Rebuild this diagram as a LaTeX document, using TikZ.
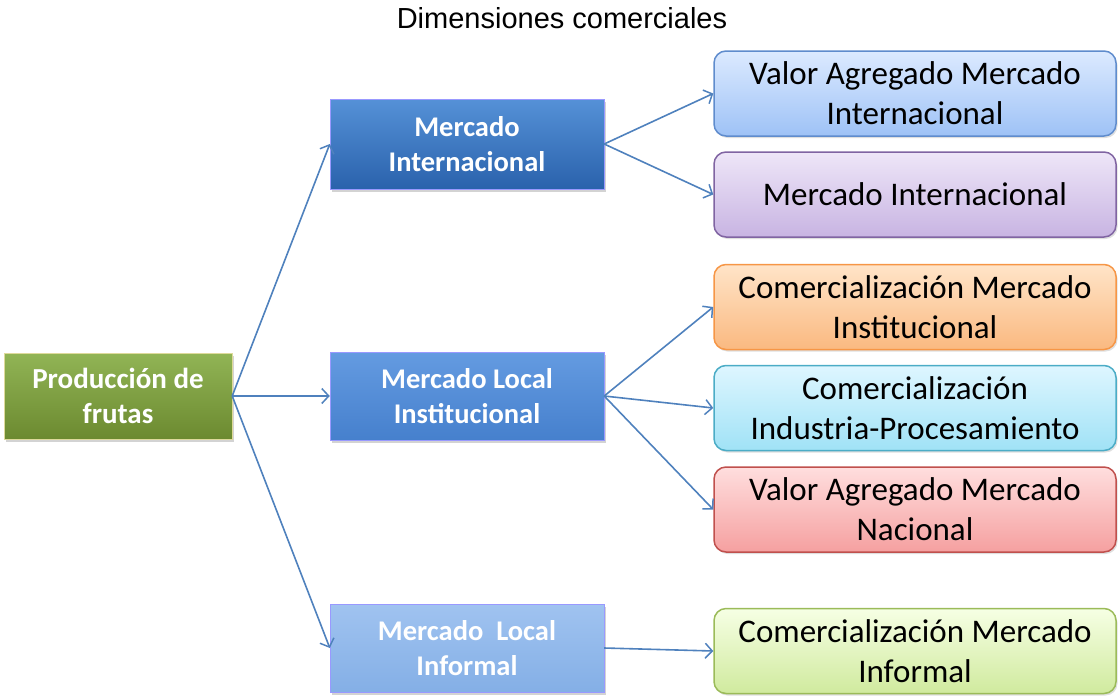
\documentclass[tikz,border=0pt]{standalone}
\usepackage{fontspec}
\setmainfont{Carlito}
\newfontfamily\titlefont{Liberation Sans}
\usepackage{tikz}
\usetikzlibrary{arrows.meta, shadows}
\definecolor{arrowblue}{RGB}{79,129,189}
\tikzstyle{source} = [rectangle, minimum width=228pt, minimum height=86pt, inner sep=0pt, text centered, align=center, draw=white!70!olive, top color={rgb,255:red,145;green,180;blue,85}, bottom color={rgb,255:red,108;green,138;blue,48}, text=white, font=\bfseries\fontsize{29}{35}\selectfont, drop shadow={shadow xshift=2pt, shadow yshift=-3pt, opacity=0.35}]
\tikzstyle{market} = [rectangle, minimum width=274pt, minimum height=88pt, inner sep=0pt, text centered, align=center, draw=white!60!blue, text=white, font=\bfseries\fontsize{28.5}{35}\selectfont, drop shadow={shadow xshift=2pt, shadow yshift=-3pt, opacity=0.35}]
\tikzstyle{channel} = [rectangle, rounded corners=12pt, minimum width=402pt, minimum height=85pt, inner sep=0pt, text centered, align=center, line width=1.5pt, font=\fontsize{33}{40}\selectfont, drop shadow={shadow xshift=1.5pt, shadow yshift=-2pt, opacity=0.25}]
\tikzstyle{arrow} = [line width=1.6pt, draw=arrowblue, -{Straight Barb[length=7pt, width=15pt, line width=1.5pt]}]

\begin{document}
\begin{tikzpicture}[x=1pt, y=-1pt]
\useasboundingbox (0,0) rectangle (1118,696);

\node (title) at (562,18) {\titlefont\fontsize{29}{32}\selectfont Dimensiones comerciales};

\node (produccion) [source] at (118,396) {Producción de\\frutas};

\node (mercadoint) [market, minimum height=90pt, top color={rgb,255:red,85;green,145;blue,215}, bottom color={rgb,255:red,42;green,98;blue,172}] at (467,144) {Mercado\\Internacional};
\node (mercadolocal) [market, top color={rgb,255:red,100;green,155;blue,225}, bottom color={rgb,255:red,70;green,128;blue,205}] at (467,396) {Mercado Local\\Institucional};
\node (mercadoinf) [market, top color={rgb,255:red,160;green,195;blue,240}, bottom color={rgb,255:red,132;green,175;blue,230}] at (467,648) {Mercado~~Local\\Informal};

\node (valorint) [channel, draw={rgb,255:red,95;green,140;blue,205}, top color={rgb,255:red,220;green,234;blue,255}, bottom color={rgb,255:red,158;green,194;blue,246}] at (915,93.5) {Valor Agregado Mercado\\Internacional};
\node (mercint) [channel, draw={rgb,255:red,128;green,100;blue,162}, top color={rgb,255:red,238;green,230;blue,248}, bottom color={rgb,255:red,200;green,180;blue,226}] at (915,194.5) {Mercado Internacional};
\node (comerinst) [channel, draw={rgb,255:red,246;green,150;blue,70}, top color={rgb,255:red,255;green,228;blue,200}, bottom color={rgb,255:red,250;green,185;blue,128}] at (915,307) {Comercialización Mercado\\Institucional};
\node (comerind) [channel, draw={rgb,255:red,75;green,172;blue,198}, top color={rgb,255:red,222;green,246;blue,255}, bottom color={rgb,255:red,160;green,226;blue,246}] at (915,408) {Comercialización\\Industria-Procesamiento};
\node (valornac) [channel, draw={rgb,255:red,192;green,80;blue,77}, top color={rgb,255:red,255;green,222;blue,222}, bottom color={rgb,255:red,245;green,160;blue,160}] at (915,509.5) {Valor Agregado Mercado\\Nacional};
\node (comerinf) [channel, draw={rgb,255:red,155;green,187;blue,89}, top color={rgb,255:red,246;green,255;blue,228}, bottom color={rgb,255:red,208;green,234;blue,158}] at (915,651) {Comercialización Mercado\\Informal};

\draw [arrow] (produccion.east) -- (mercadoint.west);
\draw [arrow] (produccion.east) -- (mercadolocal.west);
\draw [arrow] (produccion.east) -- (mercadoinf.west);

\draw [arrow] (mercadoint.east) -- (valorint.west);
\draw [arrow] (mercadoint.east) -- (mercint.west);

\draw [arrow] (mercadolocal.east) -- (comerinst.west);
\draw [arrow] (mercadolocal.east) -- (comerind.west);
\draw [arrow] (mercadolocal.east) -- (valornac.west);

\draw [arrow] (mercadoinf.east) -- (comerinf.west);

\end{tikzpicture}
\end{document}
